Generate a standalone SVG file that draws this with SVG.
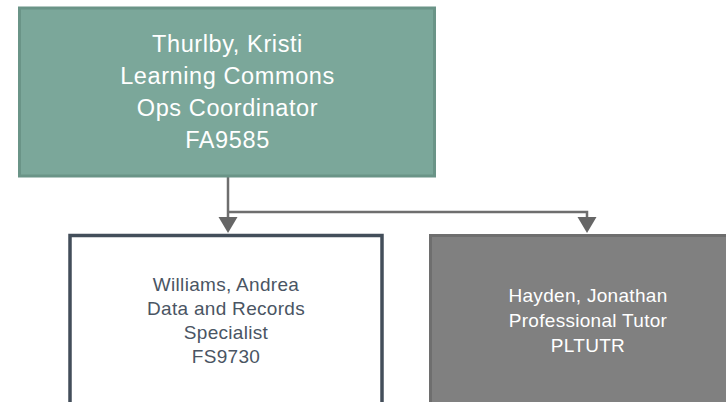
<svg xmlns="http://www.w3.org/2000/svg" width="726" height="402" viewBox="0 0 726 402">
<style>
.t{font-family:"Liberation Sans",Arial,sans-serif;text-anchor:middle}
.top{font-size:23.5px;fill:#ffffff;letter-spacing:0.6px}
.sub{font-size:19px;letter-spacing:0.3px}
.conn{fill:none;stroke:#6E6E6E;stroke-width:2.5}
.head{fill:#666666}
</style>
<rect width="726" height="402" fill="#ffffff"/>
<g id="connectors">
<path class="conn" d="M228,177 V218"/>
<path class="conn" d="M228,212 H587 V218"/>
<path class="head" d="M218.5,217 L237.5,217 L228,233 Z"/>
<path class="head" d="M577.5,217 L596.5,217 L587,233 Z"/>
</g>
<g id="node-thurlby">
<rect x="19.5" y="8" width="415" height="168" fill="#7BA79A" stroke="#6A9487" stroke-width="3"/>
<text class="t top"><tspan x="227.5" y="52">Thurlby, Kristi</tspan><tspan x="227.5" y="84">Learning Commons</tspan><tspan x="227.5" y="116">Ops Coordinator</tspan><tspan x="227.5" y="148">FA9585</tspan></text>
</g>
<g id="node-williams">
<rect x="70" y="235.5" width="312" height="180" fill="#ffffff" stroke="#434E5A" stroke-width="3.5"/>
<text class="t sub" fill="#4A5563"><tspan x="226" y="291">Williams, Andrea</tspan><tspan x="226" y="315">Data and Records</tspan><tspan x="226" y="339">Specialist</tspan><tspan x="226" y="363">FS9730</tspan></text>
</g>
<g id="node-hayden">
<rect x="430.5" y="235.5" width="310" height="180" fill="#808080" stroke="#6E6E6E" stroke-width="3"/>
<text class="t sub" fill="#ffffff"><tspan x="588" y="302">Hayden, Jonathan</tspan><tspan x="588" y="327">Professional Tutor</tspan><tspan x="588" y="352">PLTUTR</tspan></text>
</g>
</svg>
